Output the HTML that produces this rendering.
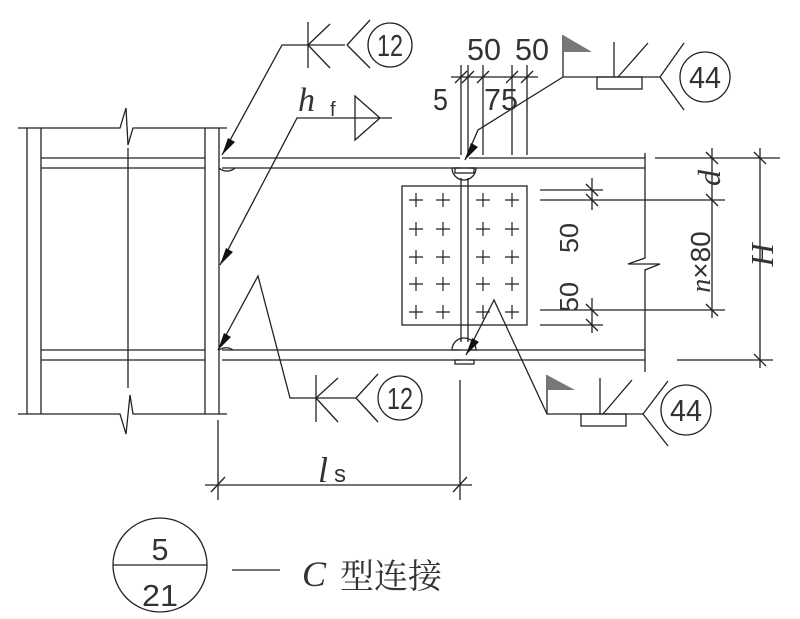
<!DOCTYPE html>
<html><head><meta charset="utf-8"><style>
html,body{margin:0;padding:0;background:#fff;width:800px;height:619px;overflow:hidden}
svg{display:block}
.t{font-family:"Liberation Sans","Noto Sans CJK SC",sans-serif;fill:#333}
.s{font-family:"Liberation Serif",serif;font-style:italic;fill:#333}
</style></head><body>
<svg width="800" height="619" viewBox="0 0 800 619" xmlns="http://www.w3.org/2000/svg">
<g stroke="#222" stroke-width="1.3" fill="none">
<polyline points="18,128 120,128 126,108 128,145 133,128 227,128"/>
<polyline points="18,414 120,414 126,434 130,395 133,414 227,414"/>
<line x1="27" y1="128" x2="27" y2="414"/><line x1="41" y1="128" x2="41" y2="414"/>
<line x1="205" y1="128" x2="205" y2="414"/><line x1="219" y1="128" x2="219" y2="414"/>
<line x1="128" y1="148" x2="128" y2="388"/>
<line x1="41" y1="158" x2="205" y2="158"/><line x1="41" y1="168" x2="205" y2="168"/>
<line x1="41" y1="350" x2="205" y2="350"/><line x1="41" y1="360" x2="205" y2="360"/>
<path d="M219,168 A12,12 0 0 0 235,168"/><path d="M219,350 A12,12 0 0 1 233,350"/>
<line x1="222" y1="158" x2="460" y2="158"/><line x1="222" y1="168" x2="460" y2="168"/>
<line x1="469" y1="158" x2="645" y2="158"/><line x1="469" y1="168" x2="645" y2="168"/>
<line x1="222" y1="350" x2="460" y2="350"/><line x1="222" y1="360" x2="460" y2="360"/>
<line x1="469" y1="350" x2="645" y2="350"/><line x1="469" y1="360" x2="645" y2="360"/>
<polyline points="645,153 645,258 628,264 660,264 645,270 645,372"/>
<line x1="461" y1="178" x2="461" y2="342"/><line x1="468" y1="178" x2="468" y2="342"/>
<path d="M452,168 A12,12 0 0 0 476,168 Z"/><rect x="455" y="168" width="19" height="5"/>
<path d="M452,350 A12,12 0 0 1 476,350 Z"/><rect x="455" y="360" width="19" height="4"/>
<rect x="402" y="186" width="125" height="139"/>
<line x1="451" y1="77" x2="538" y2="77"/>
<line x1="461" y1="65" x2="461" y2="155"/><line x1="468" y1="65" x2="468" y2="155"/>
<line x1="483" y1="65" x2="483" y2="155"/><line x1="512" y1="65" x2="512" y2="155"/>
<line x1="527" y1="65" x2="527" y2="155"/>
<line x1="455" y1="83" x2="467" y2="71"/><line x1="462" y1="83" x2="474" y2="71"/><line x1="477" y1="83" x2="489" y2="71"/><line x1="506" y1="83" x2="518" y2="71"/><line x1="521" y1="83" x2="533" y2="71"/>
<line x1="655" y1="158" x2="780" y2="158"/>
<line x1="540" y1="200" x2="725" y2="200"/>
<line x1="540" y1="190" x2="603" y2="190"/>
<line x1="540" y1="310" x2="725" y2="310"/>
<line x1="540" y1="325" x2="603" y2="325"/>
<line x1="677" y1="360" x2="773" y2="360"/>
<line x1="712" y1="148" x2="712" y2="318"/>
<line x1="760" y1="148" x2="760" y2="368"/>
<line x1="592" y1="178" x2="592" y2="210"/><line x1="592" y1="298" x2="592" y2="333"/>
<line x1="706" y1="152" x2="718" y2="164"/><line x1="706" y1="194" x2="718" y2="206"/><line x1="706" y1="304" x2="718" y2="316"/>
<line x1="754" y1="152" x2="766" y2="164"/><line x1="754" y1="354" x2="766" y2="366"/>
<line x1="586" y1="184" x2="598" y2="196"/><line x1="586" y1="194" x2="598" y2="206"/><line x1="586" y1="304" x2="598" y2="316"/><line x1="586" y1="319" x2="598" y2="331"/>
<line x1="218" y1="420" x2="218" y2="500"/><line x1="460" y1="380" x2="460" y2="500"/>
<line x1="205" y1="485" x2="472" y2="485"/>
<line x1="211" y1="492" x2="225" y2="477"/><line x1="453" y1="492" x2="467" y2="477"/>
<polyline points="222,155 282,45 345,45"/>
<line x1="308" y1="22" x2="308" y2="68"/><line x1="308" y1="45" x2="330" y2="24"/><line x1="308" y1="45" x2="330" y2="68"/>
<line x1="347" y1="45" x2="370" y2="20"/><line x1="347" y1="45" x2="370" y2="68"/>
<circle cx="390" cy="45" r="22"/>
<polyline points="220,265 297,118 392,118"/>
<polygon points="355,96 380,118 355,140"/>
<polyline points="218,350 258,276 290,398 356,398"/>
<line x1="316" y1="375" x2="316" y2="422"/><line x1="316" y1="398" x2="338" y2="378"/><line x1="316" y1="398" x2="338" y2="422"/>
<line x1="356" y1="398" x2="378" y2="374"/><line x1="356" y1="398" x2="378" y2="422"/>
<circle cx="400" cy="398" r="22"/>
<polyline points="465,160 478,130 563,77 660,77"/>
<line x1="563" y1="35" x2="563" y2="77"/>
<rect x="597" y="77" width="45" height="12"/>
<line x1="614" y1="42" x2="614" y2="77"/><line x1="618" y1="77" x2="648" y2="43"/>
<line x1="660" y1="77" x2="684" y2="43"/><line x1="660" y1="77" x2="684" y2="110"/>
<circle cx="705" cy="77" r="25"/>
<polyline points="466,355 494,300 547,414 643,414"/>
<line x1="547" y1="375" x2="547" y2="414"/>
<rect x="581" y="414" width="45" height="12"/>
<line x1="600" y1="378" x2="600" y2="414"/><line x1="603" y1="414" x2="632" y2="380"/>
<line x1="643" y1="414" x2="668" y2="381"/><line x1="643" y1="414" x2="668" y2="446"/>
<circle cx="686" cy="410" r="25"/>
<circle cx="160" cy="565" r="47"/><line x1="113" y1="565" x2="207" y2="565"/>
<line x1="232" y1="570" x2="280" y2="570"/>
</g>
<polygon points="563,35 563,52 592,52" fill="#777"/>
<polygon points="547,375 547,390 575,390" fill="#777"/>
<g fill="#111">
<polygon points="222,155 228,138 235,142"/>
<polygon points="220,265 226,248 233,252"/>
<polygon points="218,350 224,333 231,337"/>
<polygon points="465,160 471,143 478,147"/>
<polygon points="466,355 472,338 479,342"/>
</g>
<g stroke="#222" stroke-width="1.2">
<path d="M409,200h14M416,193v14M436,200h14M443,193v14M476,200h14M483,193v14M505,200h14M512,193v14
M409,229h14M416,222v14M436,229h14M443,222v14M476,229h14M483,222v14M505,229h14M512,222v14
M409,257h14M416,250v14M436,257h14M443,250v14M476,257h14M483,250v14M505,257h14M512,250v14
M409,284h14M416,277v14M436,284h14M443,277v14M476,284h14M483,277v14M505,284h14M512,277v14
M409,312h14M416,305v14M436,312h14M443,305v14M476,312h14M483,305v14M505,312h14M512,305v14"/>
</g>
<g class="t" font-size="31">
<text class="t" x="390" y="56" text-anchor="middle" textLength="26" lengthAdjust="spacingAndGlyphs">12</text>
<text class="t" x="400" y="409" text-anchor="middle" textLength="26" lengthAdjust="spacingAndGlyphs">12</text>
<text class="t" x="705" y="88" text-anchor="middle" textLength="32" lengthAdjust="spacingAndGlyphs">44</text>
<text class="t" x="686" y="421" text-anchor="middle" textLength="32" lengthAdjust="spacingAndGlyphs">44</text>
<text class="t" x="467" y="60" textLength="34" lengthAdjust="spacingAndGlyphs">50</text>
<text class="t" x="515" y="60" textLength="34" lengthAdjust="spacingAndGlyphs">50</text>
<text class="t" x="433" y="110" textLength="15" lengthAdjust="spacingAndGlyphs">5</text>
<text class="t" x="484" y="110" textLength="34" lengthAdjust="spacingAndGlyphs">75</text>
<text class="t" x="160" y="560" text-anchor="middle" textLength="17" lengthAdjust="spacingAndGlyphs">5</text>
<text class="t" x="160" y="606" text-anchor="middle" textLength="36" lengthAdjust="spacingAndGlyphs">21</text>
</g>
<text class="s" x="298" y="111" font-size="34">h</text>
<text class="t" x="330" y="116" font-size="20">f</text>
<text class="s" x="318" y="482" font-size="36">l</text>
<text class="t" x="334" y="482" font-size="24">s</text>
<text class="t" transform="translate(578,238) rotate(-90)" font-size="26" text-anchor="middle" textLength="30" lengthAdjust="spacingAndGlyphs">50</text>
<text class="t" transform="translate(578,297) rotate(-90)" font-size="26" text-anchor="middle" textLength="30" lengthAdjust="spacingAndGlyphs">50</text>
<text class="s" transform="translate(720,178) rotate(-90)" font-size="32" text-anchor="middle">d</text>
<text class="t" transform="translate(710,262) rotate(-90)" font-size="28" text-anchor="middle"><tspan class="s">n</tspan>×80</text>
<text class="s" transform="translate(773,255) rotate(-90)" font-size="32" text-anchor="middle">H</text>
<text class="s" x="302" y="586" font-size="36">C</text>
<text class="t" x="340" y="588" font-size="34" style="font-family:'Noto Serif CJK SC','Noto Sans CJK SC',serif">型连接</text>
</svg>
</body></html>
